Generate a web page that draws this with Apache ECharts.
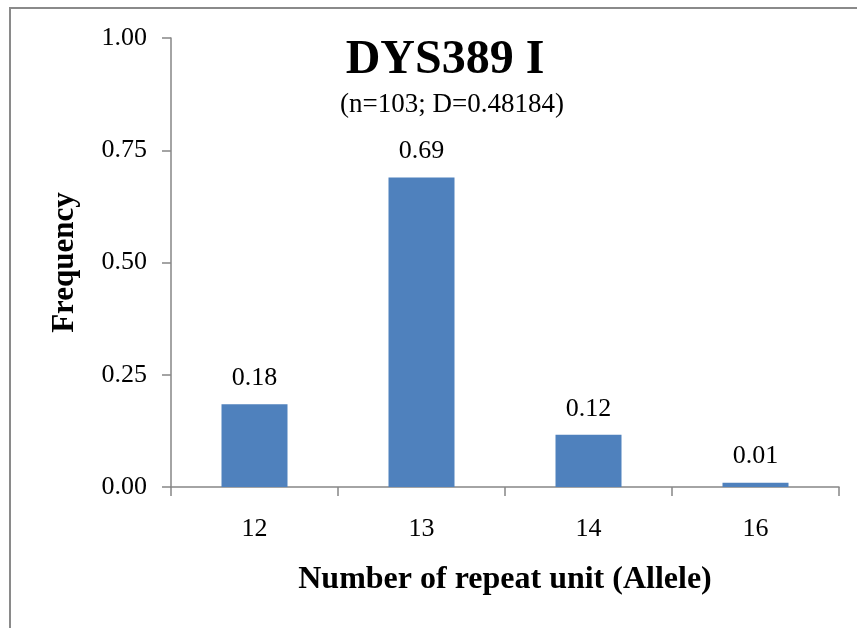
<!DOCTYPE html>
<html>
<head>
<meta charset="utf-8">
<script src="https://cdn.jsdelivr.net/npm/echarts@6/dist/echarts.min.js"></script>
<style>
html,body{margin:0;padding:0;background:#fff;}
#chart{width:857px;height:628px;}
</style>
</head>
<body>
<div id="chart"></div>
<script>
const categories = ['12', '13', '14', '16'];
const frequencies = [0.1845, 0.6893, 0.1165, 0.0097];
const yTicks = [0, 0.25, 0.5, 0.75, 1.0];
const chartTitle = 'DYS389 I';
const chartSubtitle = '(n=103; D=0.48184)';
const xName = 'Number of repeat unit (Allele)';
const yName = 'Frequency';

const FONT = '"Liberation Serif", "Times New Roman", serif';
const chart = echarts.init(document.getElementById('chart'), null, {renderer: 'canvas'});
chart.setOption({
  backgroundColor: '#fff',
  animation: false,
  title: [
    {text: chartTitle, left: 440, top: 32, textAlign: 'center',
     textStyle: {fontFamily: FONT, fontSize: 48, fontWeight: 'bold', color: '#000'}},
    {text: chartSubtitle, left: 447, top: 86, textAlign: 'center',
     textStyle: {fontFamily: FONT, fontSize: 27, fontWeight: 'normal', color: '#000'}}
  ],
  graphic: [{
    type: 'rect', shape: {x: 10, y: 8, width: 1000, height: 1000},
    style: {fill: 'none', stroke: '#8a8a8a', lineWidth: 2}, silent: true
  }],
  grid: {left: 171, top: 38, right: 18, bottom: 141, containLabel: false},
  xAxis: {
    type: 'category', data: categories,
    name: xName, nameLocation: 'middle', nameGap: 77,
    nameTextStyle: {fontFamily: FONT, fontSize: 32, fontWeight: 'bold', color: '#000'},
    axisLine: {lineStyle: {color: '#868686', width: 1.5}},
    axisTick: {show: true, length: 9, alignWithLabel: false, lineStyle: {color: '#868686', width: 1.5}},
    axisLabel: {fontFamily: FONT, fontSize: 26, color: '#000', margin: 29}
  },
  yAxis: {
    type: 'value', min: 0, max: 1, interval: 0.25,
    name: yName, nameLocation: 'middle', nameGap: 91, nameRotate: 90,
    nameTextStyle: {fontFamily: FONT, fontSize: 31, fontWeight: 'bold', color: '#000'},
    axisLine: {show: true, lineStyle: {color: '#868686', width: 1.5}},
    axisTick: {show: true, length: 9, lineStyle: {color: '#868686', width: 1.5}},
    splitLine: {show: false},
    axisLabel: {fontFamily: FONT, fontSize: 26, color: '#000', margin: 24,
      formatter: v => v.toFixed(2)}
  },
  series: [{
    type: 'bar', data: frequencies, barWidth: 66,
    itemStyle: {color: '#4F81BD'},
    label: {show: true, position: 'top', distance: 13, fontFamily: FONT, fontSize: 26, color: '#000',
      formatter: p => p.value.toFixed(2)}
  }]
});
</script>
</body>
</html>
